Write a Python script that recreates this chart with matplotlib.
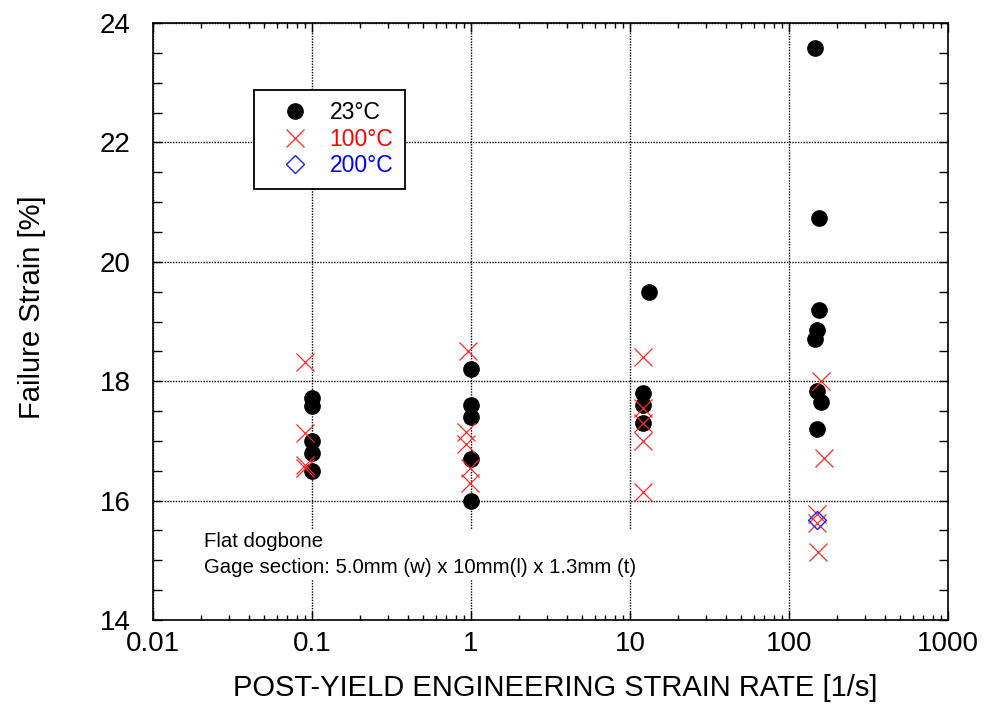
import matplotlib
matplotlib.use("Agg")
import matplotlib.pyplot as plt
from matplotlib.ticker import MultipleLocator, LogLocator, NullFormatter

plt.rcParams.update({
    "font.family": ["Liberation Sans", "DejaVu Sans"],
    "font.size": 20,
})

# 23 C (black filled circles)
rate_23 = [0.1, 0.1, 0.1, 0.1, 0.1,
           1.0, 1.0, 1.0, 1.0, 1.0,
           13.1, 12.1, 12.1, 12.1,
           146.6, 155, 155, 151, 146, 151, 158, 151]
strain_23 = [17.72, 17.58, 17.0, 16.8, 16.5,
             18.2, 17.6, 17.4, 16.7, 16.0,
             19.5, 17.8, 17.6, 17.3,
             23.58, 20.74, 19.19, 18.85, 18.7, 17.83, 17.65, 17.2]

# 100 C (red crosses)
rate_100 = [0.091, 0.091, 0.091, 0.091,
            0.957, 0.93, 0.93, 0.98, 0.98,
            12.1, 12.1, 12.1, 12.1, 12.1,
            158.7, 167, 151, 151, 153]
strain_100 = [18.32, 17.13, 16.6, 16.54,
              18.51, 17.15, 16.94, 16.55, 16.3,
              18.4, 17.55, 17.3, 17.0, 16.15,
              18.0, 16.72, 15.78, 15.62, 15.14]

# 200 C (blue open diamond)
rate_200 = [151]
strain_200 = [15.68]

XTICKS = [0.01, 0.1, 1, 10, 100, 1000]
XTICKLABELS = ["0.01", "0.1", "1", "10", "100", "1000"]

fig = plt.figure(figsize=(9.84, 7.06), dpi=100)
ax = fig.add_axes([153 / 984, 1 - 620 / 706, 795 / 984, 597 / 706])

ax.plot(rate_23, strain_23, "o", color="black", ms=11, mec="black", ls="none",
        label="23°C", zorder=3)
ax.plot(rate_100, strain_100, "x", color="#ff2a2a", ms=12.5, mew=0.9, ls="none",
        label="100°C", zorder=3)
ax.plot(rate_200, strain_200, "D", mfc="none", mec="#2020ff", ms=9.5, mew=1.0,
        ls="none", label="200°C", zorder=4)

ax.set_xscale("log")
ax.set_xlim(0.01, 1000)
ax.set_ylim(14, 24)
ax.set_xticks(XTICKS)
ax.set_xticklabels(XTICKLABELS)
ax.xaxis.set_minor_locator(LogLocator(base=10, subs=range(2, 10), numticks=20))
ax.xaxis.set_minor_formatter(NullFormatter())
ax.yaxis.set_major_locator(MultipleLocator(2))
ax.yaxis.set_minor_locator(MultipleLocator(0.5))

ax.tick_params(which="both", direction="in", top=True, right=True, width=1.0)
ax.tick_params(which="major", length=6.5)
ax.tick_params(axis="x", which="minor", length=3.5)
ax.tick_params(axis="y", which="minor", length=6.5)
ax.tick_params(axis="x", which="major", pad=8, labelsize=20)
ax.tick_params(axis="y", which="major", pad=16, labelsize=20)

for s in ax.spines.values():
    s.set_linewidth(1.2)

ax.grid(True, which="major", color="black", ls=(0, (1, 1)), lw=1.0)
ax.set_axisbelow(True)

ax.set_xlabel("POST-YIELD ENGINEERING STRAIN RATE [1/s]", fontsize=21)
ax.set_ylabel("Failure Strain [%]", fontsize=21)
ax.xaxis.set_label_coords(0.506, -0.09)
ax.yaxis.set_label_coords(-0.135, 0.524)

leg = ax.legend(loc="upper left", bbox_to_anchor=(0.127, 0.888), fontsize=16.5,
                frameon=True, fancybox=False, framealpha=1, edgecolor="black",
                handletextpad=0.2, borderpad=0.5, labelspacing=0.15,
                handlelength=2.6, borderaxespad=0)
leg.get_frame().set_linewidth(1.3)
for txt, c in zip(leg.get_texts(), ["black", "#ff0000", "#0000ff"]):
    txt.set_color(c)

ax.text(0.064, 0.147, "Flat dogbone\nGage section: 5.0mm (w) x 10mm(l) x 1.3mm (t)",
        transform=ax.transAxes, ha="left", va="top", fontsize=14.7,
        linespacing=1.45, color="black",
        bbox=dict(facecolor="white", edgecolor="none", pad=2), zorder=2)

fig.savefig("out.png", dpi=100)
